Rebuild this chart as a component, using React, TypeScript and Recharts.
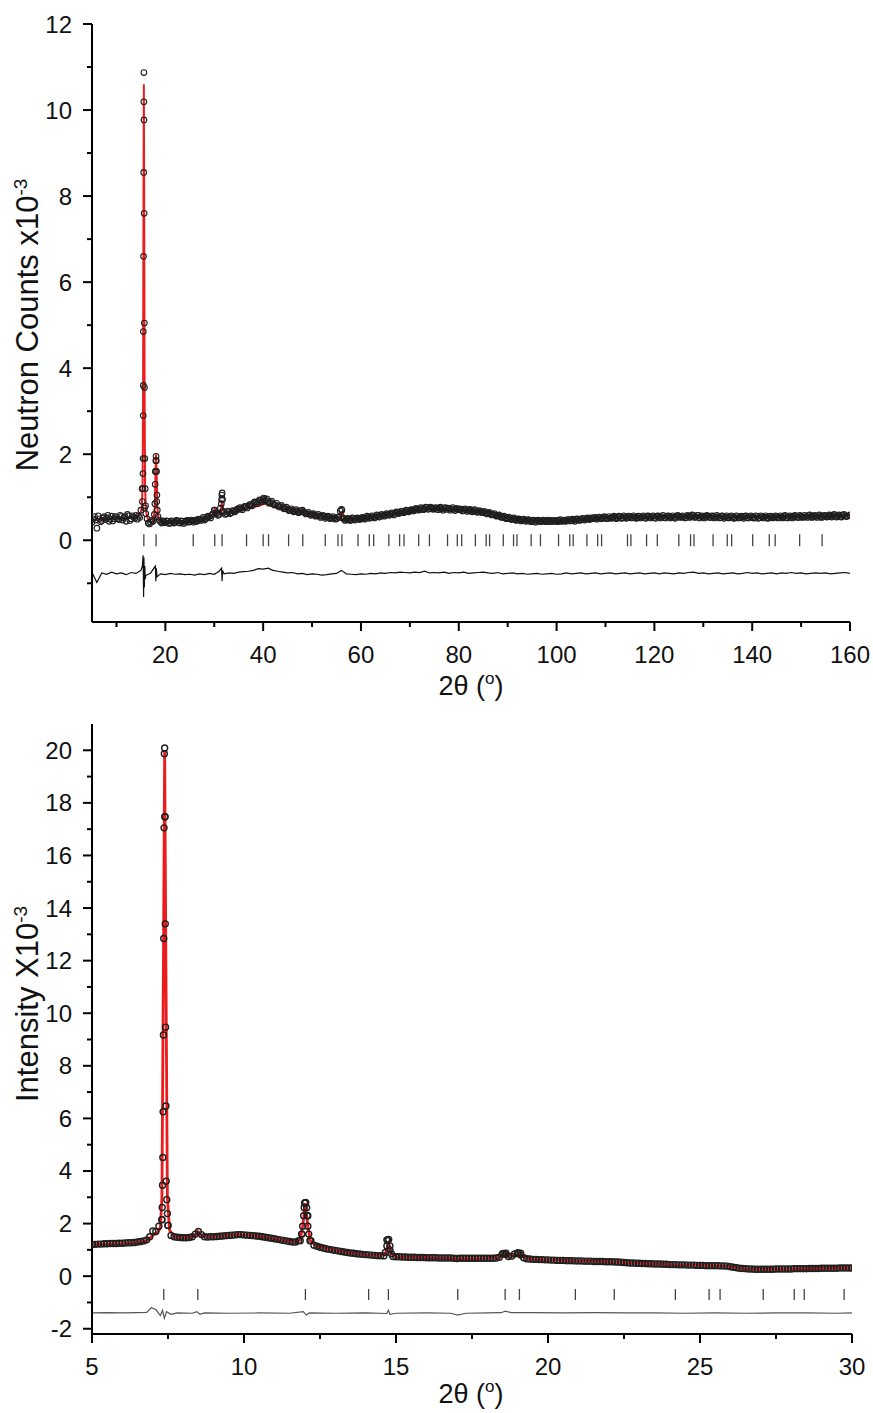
import React from 'react';
import { ComposedChart, Line, Scatter, XAxis, YAxis } from 'recharts';

const FONT = '"Liberation Sans", Arial, Helvetica, sans-serif';
const RED = '#ec1c1c';

// ---------- top panel (neutron) ----------
const topObsStart = 5;
const topObsStep = 0.5;
const topObs = [
  0.42, 0.55, 0.28, 0.5, 0.46, 0.55, 0.52, 0.44, 0.56, 0.5,
  0.53, 0.48, 0.55, 0.52, 0.44, 0.57, 0.5, 0.54, 0.58, 0.56,
  0.7, 3.6, 0.62, 0.4, 0.42, 0.44, 1.6, 0.55, 0.43, 0.45,
  0.41, 0.44, 0.4, 0.43, 0.42, 0.45, 0.4, 0.44, 0.42, 0.46,
  0.43, 0.45, 0.47, 0.44, 0.48, 0.5, 0.47, 0.53, 0.55, 0.58,
  0.7, 0.62, 0.6, 0.95, 0.65, 0.62, 0.66, 0.64, 0.68, 0.7,
  0.72, 0.74, 0.76, 0.78, 0.8, 0.83, 0.86, 0.88, 0.9, 0.93,
  0.95, 0.93, 0.9, 0.88, 0.85, 0.82, 0.8, 0.78, 0.76, 0.74,
  0.72, 0.7, 0.69, 0.68, 0.67, 0.66, 0.7, 0.64, 0.62, 0.61,
  0.6, 0.59, 0.57, 0.56, 0.56, 0.55, 0.54, 0.53, 0.52, 0.52,
  0.5, 0.53, 0.72, 0.5, 0.48, 0.49, 0.47, 0.5, 0.49, 0.51,
  0.5, 0.52, 0.51, 0.54, 0.53, 0.55, 0.54, 0.57, 0.56, 0.58,
  0.59, 0.6, 0.61, 0.62, 0.63, 0.65, 0.64, 0.67, 0.66, 0.69,
  0.68, 0.7, 0.71, 0.72, 0.72, 0.74, 0.73, 0.76, 0.74, 0.75,
  0.73, 0.75, 0.74, 0.73, 0.75, 0.72, 0.74, 0.73, 0.72, 0.74,
  0.71, 0.72, 0.7, 0.71, 0.69, 0.7, 0.68, 0.69, 0.66, 0.67,
  0.65, 0.64, 0.63, 0.61, 0.6, 0.58, 0.57, 0.55, 0.54, 0.52,
  0.52, 0.5, 0.5, 0.48, 0.49, 0.47, 0.48, 0.46, 0.47, 0.45,
  0.46, 0.44, 0.46, 0.45, 0.44, 0.46, 0.45, 0.43, 0.46, 0.44,
  0.45, 0.46, 0.44, 0.47, 0.45, 0.48, 0.46, 0.47, 0.49, 0.47,
  0.48, 0.5, 0.49, 0.5, 0.52, 0.5, 0.51, 0.53, 0.51, 0.52,
  0.53, 0.51, 0.52, 0.54, 0.52, 0.53, 0.55, 0.52, 0.54, 0.53,
  0.55, 0.53, 0.54, 0.52, 0.55, 0.54, 0.53, 0.56, 0.54, 0.55,
  0.53, 0.56, 0.54, 0.55, 0.53, 0.55, 0.56, 0.54, 0.53, 0.55,
  0.56, 0.54, 0.55, 0.53, 0.56, 0.55, 0.57, 0.54, 0.58, 0.55,
  0.54, 0.56, 0.55, 0.53, 0.56, 0.54, 0.55, 0.53, 0.56, 0.54,
  0.53, 0.55, 0.54, 0.52, 0.55, 0.53, 0.54, 0.56, 0.53, 0.55,
  0.54, 0.52, 0.55, 0.53, 0.55, 0.54, 0.52, 0.55, 0.53, 0.54,
  0.55, 0.53, 0.54, 0.56, 0.53, 0.55, 0.54, 0.56, 0.55, 0.53,
  0.56, 0.54, 0.55, 0.57, 0.54, 0.56, 0.55, 0.57, 0.54, 0.56,
  0.57, 0.55, 0.56, 0.58, 0.56, 0.57, 0.55, 0.58, 0.57, 0.56,
  0.59,
];
// second, offset set of observed counts (scatter read between the first set)
const topObs2Start = 5.25;
const topObs2 = [
  0.5, 0.47, 0.57, 0.43, 0.52, 0.48, 0.58, 0.49, 0.45, 0.55,
  0.5, 0.58, 0.47, 0.55, 0.6, 0.46, 0.57, 0.51, 0.49, 0.53,
  1.2, 0.75, 0.5, 0.38, 0.46, 0.6, 0.9, 0.47, 0.4, 0.43,
  0.45, 0.39, 0.45, 0.4, 0.46, 0.41, 0.45, 0.39, 0.45, 0.42,
  0.47, 0.42, 0.45, 0.49, 0.46, 0.53, 0.5, 0.56, 0.52, 0.62,
  0.64, 0.58, 0.75, 0.68, 0.6, 0.68, 0.62, 0.69, 0.66, 0.73,
  0.76, 0.71, 0.79, 0.75, 0.83, 0.8, 0.89, 0.85, 0.94, 0.9,
  0.91, 0.96, 0.86, 0.91, 0.82, 0.86, 0.77, 0.81, 0.73, 0.77,
  0.69, 0.73, 0.66, 0.71, 0.64, 0.69, 0.66, 0.61, 0.65, 0.58,
  0.62, 0.56, 0.6, 0.53, 0.58, 0.51, 0.56, 0.5, 0.55, 0.49,
  0.54, 0.68, 0.52, 0.46, 0.51, 0.46, 0.52, 0.47, 0.52, 0.48,
  0.53, 0.49, 0.56, 0.51, 0.57, 0.52, 0.59, 0.54, 0.6, 0.56,
  0.62, 0.58, 0.64, 0.59, 0.66, 0.62, 0.68, 0.64, 0.7, 0.66,
  0.71, 0.68, 0.74, 0.7, 0.76, 0.71, 0.77, 0.72, 0.77, 0.72,
  0.76, 0.71, 0.77, 0.7, 0.76, 0.75, 0.7, 0.76, 0.69, 0.72,
  0.73, 0.68, 0.73, 0.67, 0.72, 0.66, 0.71, 0.65, 0.69, 0.64,
  0.67, 0.61, 0.65, 0.59, 0.62, 0.56, 0.59, 0.53, 0.56, 0.5,
  0.54, 0.48, 0.52, 0.46, 0.5, 0.45, 0.49, 0.44, 0.48, 0.43,
  0.47, 0.42, 0.47, 0.43, 0.47, 0.43, 0.47, 0.44, 0.44, 0.46,
  0.43, 0.48, 0.45, 0.44, 0.48, 0.45, 0.49, 0.44, 0.5, 0.46,
  0.51, 0.47, 0.52, 0.48, 0.5, 0.53, 0.49, 0.54, 0.5, 0.55,
  0.5, 0.55, 0.51, 0.56, 0.5, 0.56, 0.51, 0.57, 0.51, 0.56,
  0.52, 0.57, 0.51, 0.56, 0.52, 0.57, 0.51, 0.57, 0.52, 0.57,
  0.51, 0.57, 0.52, 0.58, 0.52, 0.57, 0.52, 0.57, 0.51, 0.58,
  0.53, 0.57, 0.52, 0.58, 0.53, 0.59, 0.53, 0.58, 0.52, 0.57,
  0.52, 0.58, 0.53, 0.57, 0.52, 0.58, 0.52, 0.57, 0.51, 0.57,
  0.52, 0.57, 0.51, 0.57, 0.52, 0.56, 0.51, 0.57, 0.52, 0.57,
  0.52, 0.57, 0.51, 0.57, 0.52, 0.57, 0.51, 0.56, 0.52, 0.57,
  0.52, 0.57, 0.52, 0.58, 0.52, 0.57, 0.52, 0.58, 0.53, 0.58,
  0.53, 0.58, 0.53, 0.59, 0.53, 0.58, 0.53, 0.59, 0.53, 0.58,
  0.54, 0.59, 0.54, 0.6, 0.54, 0.59, 0.54, 0.6, 0.55,
];
// extra observed points on the Bragg peaks [2theta, counts]
const topObsPeaks = [
  [15.3, 0.9], [15.38, 1.2], [15.42, 1.55], [15.45, 1.9], [15.48, 2.9], [15.5, 4.85],
  [15.53, 6.6], [15.57, 8.55], [15.6, 10.19], [15.61, 10.87], [15.63, 9.77], [15.66, 7.6],
  [15.7, 5.05], [15.74, 3.55], [15.8, 1.9], [15.88, 1.2], [15.95, 0.8],
  [17.85, 0.85], [17.92, 1.3], [17.98, 1.6], [18.05, 1.85], [18.1, 1.95], [18.15, 1.85],
  [18.2, 1.6], [18.27, 1.05], [18.35, 0.7],
  [30.05, 0.7], [31.45, 0.85], [31.55, 1.05], [31.62, 1.1], [31.7, 0.95],
  [40.1, 0.98], [56.1, 0.7],
];
const topCalc = [
  [5, 0.47], [7, 0.48], [9, 0.5], [11, 0.51], [13, 0.52], [14.5, 0.56], [15.0, 0.65],
  [15.2, 0.8], [15.35, 1.3], [15.45, 3.5], [15.52, 7.5], [15.6, 10.6], [15.68, 7.5],
  [15.75, 3.5], [15.85, 1.3], [16.0, 0.7], [16.4, 0.5], [17.0, 0.42], [17.6, 0.45],
  [17.85, 0.8], [17.95, 1.4], [18.1, 2.0], [18.25, 1.4], [18.35, 0.8], [18.6, 0.48],
  [19.5, 0.42], [21, 0.41], [23, 0.42], [25, 0.43], [27, 0.46], [29, 0.52], [29.8, 0.62],
  [30.1, 0.72], [30.5, 0.6], [31, 0.62], [31.4, 0.75], [31.6, 0.91], [31.8, 0.7],
  [32.5, 0.63], [34, 0.67], [36, 0.72], [38, 0.77], [39.5, 0.81], [40.3, 0.86], [41, 0.82],
  [42, 0.79], [44, 0.74], [46, 0.69], [47.5, 0.66], [48.1, 0.7], [48.7, 0.64], [50, 0.6],
  [52, 0.56], [54, 0.53], [55.7, 0.52], [56.2, 0.66], [56.7, 0.5], [58, 0.49], [60, 0.5],
  [62, 0.53], [64, 0.56], [66, 0.6], [68, 0.64], [70, 0.68], [72, 0.71], [74, 0.73],
  [76, 0.73], [78, 0.72], [80, 0.71], [82, 0.7], [84, 0.67], [86, 0.63], [88, 0.58],
  [90, 0.53], [92, 0.49], [94, 0.47], [96, 0.46], [98, 0.45], [100, 0.45], [102, 0.46],
  [104, 0.48], [106, 0.49], [108, 0.51], [110, 0.52], [115, 0.53], [120, 0.54],
  [125, 0.54], [130, 0.55], [135, 0.54], [140, 0.54], [145, 0.54], [150, 0.55],
  [155, 0.55], [160, 0.57],
];
const topDiffStart = 5;
const topDiffStep = 1;
const topDiff = [
  -0.75, -0.98, -0.76, -0.79, -0.74, -0.78, -0.76, -0.8, -0.75, -0.77,
  -0.7, -0.82, -0.76, -0.7, -0.78, -0.8, -0.77, -0.79, -0.78, -0.8,
  -0.79, -0.81, -0.78, -0.8, -0.77, -0.79, -0.72, -0.78, -0.76, -0.77,
  -0.74, -0.73, -0.72, -0.7, -0.66, -0.67, -0.65, -0.7, -0.72, -0.74,
  -0.76, -0.75, -0.78, -0.77, -0.8, -0.78, -0.79, -0.81, -0.8, -0.78,
  -0.77, -0.7, -0.78, -0.79, -0.8, -0.78, -0.79, -0.77, -0.78, -0.76,
  -0.77, -0.75, -0.76, -0.74, -0.75, -0.76, -0.74, -0.75, -0.72, -0.76,
  -0.75, -0.76, -0.74, -0.77, -0.75, -0.76, -0.74, -0.77, -0.76, -0.75,
  -0.74, -0.76, -0.77, -0.75, -0.78, -0.77, -0.76, -0.78, -0.77, -0.79,
  -0.78, -0.77, -0.79, -0.78, -0.77, -0.79, -0.78, -0.76, -0.78, -0.77,
  -0.76, -0.78, -0.77, -0.76, -0.78, -0.77, -0.76, -0.78, -0.77, -0.76,
  -0.78, -0.77, -0.76, -0.78, -0.77, -0.76, -0.78, -0.76, -0.77, -0.78,
  -0.76, -0.77, -0.75, -0.74, -0.77, -0.76, -0.78, -0.77, -0.76, -0.78,
  -0.77, -0.76, -0.78, -0.77, -0.75, -0.77, -0.76, -0.78, -0.77, -0.76,
  -0.78, -0.76, -0.77, -0.75, -0.77, -0.76, -0.78, -0.77, -0.76, -0.77,
  -0.76, -0.78, -0.77, -0.76, -0.75, -0.77,
];
const topDiffPeaks = [
  [15.3, -0.6], [15.45, -0.35], [15.55, -1.32], [15.62, -0.4], [15.7, -1.1], [15.8, -0.6],
  [15.9, -0.9], [17.95, -0.6], [18.05, -0.95], [18.15, -0.65], [18.3, -0.85],
  [31.5, -0.65], [31.6, -0.95], [31.7, -0.7],
];
const topBragg = [
  15.6, 18.1, 25.7, 30.1, 31.6, 36.6, 40.0, 41.1, 45.2, 48.1, 52.7, 55.3, 56.1, 59.4,
  61.7, 62.6, 65.7, 67.9, 68.8, 71.8, 74.0, 77.7, 79.7, 80.6, 83.4, 85.6, 86.3, 89.1,
  91.2, 91.9, 94.8, 96.7, 100.4, 102.7, 103.4, 106.2, 108.4, 109.2, 114.5, 115.2, 118.4,
  120.6, 125.0, 127.4, 128.1, 132.0, 134.9, 135.8, 140.1, 143.5, 144.7, 149.7, 154.3,
];
const topXMajor = [20, 40, 60, 80, 100, 120, 140, 160];
const topXMinor = [10, 30, 50, 70, 90, 110, 130, 150];
const topYMajor = [0, 2, 4, 6, 8, 10, 12];
const topYMinor = [-1, 1, 3, 5, 7, 9, 11];

// ---------- bottom panel (x-ray) ----------
const botObsStart = 5;
const botObsStep = 0.1;
const botObs = [
  1.2, 1.21, 1.22, 1.22, 1.23, 1.23, 1.24, 1.24, 1.24, 1.25,
  1.25, 1.26, 1.27, 1.27, 1.28, 1.3, 1.32, 1.34, 1.38, 1.5,
  1.72, 1.7, 1.9, 2.15, 17.47, 1.93, 1.55, 1.5, 1.48, 1.47,
  1.46, 1.46, 1.47, 1.5, 1.6, 1.7, 1.58, 1.5, 1.49, 1.5,
  1.5, 1.51, 1.52, 1.53, 1.54, 1.55, 1.56, 1.57, 1.58, 1.58,
  1.57, 1.56, 1.55, 1.54, 1.53, 1.52, 1.5, 1.48, 1.46, 1.44,
  1.42, 1.4, 1.38, 1.36, 1.34, 1.32, 1.3, 1.3, 1.35, 1.6,
  2.78, 2.3, 1.35, 1.18, 1.14, 1.1, 1.07, 1.04, 1.02, 1.0,
  0.98, 0.96, 0.94, 0.92, 0.9, 0.88, 0.87, 0.85, 0.84, 0.83,
  0.82, 0.81, 0.8, 0.79, 0.78, 0.78, 0.77, 1.38, 1.0, 0.75,
  0.74, 0.74, 0.73, 0.73, 0.72, 0.72, 0.72, 0.71, 0.71, 0.71,
  0.7, 0.7, 0.7, 0.7, 0.69, 0.69, 0.69, 0.69, 0.69, 0.68,
  0.67, 0.68, 0.68, 0.68, 0.68, 0.68, 0.68, 0.68, 0.68, 0.68,
  0.68, 0.68, 0.68, 0.69, 0.72, 0.85, 0.82, 0.75, 0.76, 0.84,
  0.88, 0.8, 0.7, 0.66, 0.65, 0.64, 0.64, 0.63, 0.63, 0.62,
  0.62, 0.61, 0.61, 0.6, 0.6, 0.6, 0.59, 0.59, 0.59, 0.58,
  0.58, 0.58, 0.57, 0.57, 0.57, 0.56, 0.56, 0.56, 0.56, 0.55,
  0.55, 0.55, 0.54, 0.54, 0.53, 0.52, 0.51, 0.5, 0.5, 0.49,
  0.49, 0.48, 0.48, 0.47, 0.47, 0.46, 0.46, 0.46, 0.45, 0.45,
  0.44, 0.44, 0.44, 0.43, 0.43, 0.43, 0.42, 0.42, 0.42, 0.41,
  0.41, 0.41, 0.4, 0.4, 0.4, 0.4, 0.4, 0.39, 0.39, 0.38,
  0.36, 0.34, 0.32, 0.3, 0.29, 0.28, 0.27, 0.27, 0.26, 0.26,
  0.26, 0.26, 0.26, 0.26, 0.26, 0.27, 0.27, 0.27, 0.27, 0.27,
  0.27, 0.28, 0.28, 0.28, 0.28, 0.28, 0.29, 0.29, 0.29, 0.29,
  0.3, 0.3, 0.3, 0.3, 0.3, 0.3, 0.31, 0.31, 0.31, 0.31,
  0.31,
];
const botObsPeaks = [
  [7.3, 2.15], [7.31, 2.61], [7.32, 3.46], [7.33, 4.51], [7.34, 6.25], [7.35, 9.17],
  [7.36, 12.84], [7.37, 17.05], [7.38, 19.87], [7.39, 20.09], [7.4, 17.47], [7.41, 13.4],
  [7.42, 9.47], [7.43, 6.47], [7.44, 3.61], [7.46, 2.91], [7.48, 2.38], [7.5, 1.93],
  [11.85, 1.35], [11.9, 1.6], [11.93, 1.9], [11.96, 2.3], [11.98, 2.6], [12.0, 2.78],
  [12.03, 2.8], [12.06, 2.6], [12.08, 2.3], [12.1, 1.9], [12.13, 1.6], [12.17, 1.35],
  [14.65, 0.9], [14.7, 1.15], [14.73, 1.35], [14.76, 1.4], [14.8, 1.15], [14.85, 0.85],
  [18.55, 0.86], [18.62, 0.87], [19.02, 0.88], [19.1, 0.87],
];
const botCalc = [
  [5, 1.2], [5.5, 1.22], [6, 1.24], [6.5, 1.28], [6.8, 1.34], [7.0, 1.55], [7.15, 1.65],
  [7.25, 1.85], [7.3, 3.0], [7.35, 12], [7.39, 20.0], [7.43, 12], [7.48, 3.0], [7.55, 1.75],
  [7.7, 1.5], [8, 1.46], [8.3, 1.48], [8.4, 1.56], [8.48, 1.7], [8.58, 1.55], [8.8, 1.5],
  [9.3, 1.53], [9.8, 1.58], [10.3, 1.54], [10.8, 1.46], [11.3, 1.36], [11.7, 1.3],
  [11.85, 1.38], [11.93, 1.9], [12.02, 2.78], [12.1, 1.9], [12.18, 1.35], [12.4, 1.14],
  [13, 0.98], [13.5, 0.89], [14, 0.82], [14.5, 0.78], [14.65, 0.85], [14.75, 1.22],
  [14.85, 0.85], [15, 0.74], [16, 0.7], [17, 0.67], [18, 0.68], [18.4, 0.7], [18.55, 0.84],
  [18.75, 0.75], [18.95, 0.8], [19.06, 0.86], [19.25, 0.7], [19.5, 0.64], [20, 0.62],
  [21, 0.58], [22, 0.55], [23, 0.49], [24, 0.44], [25, 0.41], [25.7, 0.39], [26, 0.36],
  [26.5, 0.28], [27, 0.26], [28, 0.27], [29, 0.3], [30, 0.31],
];
const botDiff = [
  [5, -1.4], [5.5, -1.39], [6, -1.4], [6.5, -1.39], [6.8, -1.38], [6.95, -1.2], [7.1, -1.27],
  [7.25, -1.5], [7.32, -1.3], [7.38, -1.6], [7.45, -1.35], [7.6, -1.45], [7.8, -1.4],
  [8.3, -1.41], [8.45, -1.35], [8.55, -1.45], [8.7, -1.4], [9.5, -1.41], [10.5, -1.4],
  [11.5, -1.41], [11.95, -1.35], [12.05, -1.48], [12.15, -1.4], [13, -1.41], [14, -1.4],
  [14.7, -1.42], [14.75, -1.3], [14.8, -1.45], [15, -1.41], [16, -1.4], [16.8, -1.41],
  [17.03, -1.48], [17.3, -1.41], [18, -1.4], [18.45, -1.39], [18.6, -1.33], [18.8, -1.39],
  [19.5, -1.39], [20.5, -1.4], [21.5, -1.39], [22.5, -1.4], [23.5, -1.4], [24.5, -1.41],
  [25.5, -1.4], [26.5, -1.41], [27.5, -1.4], [28.5, -1.4], [29.5, -1.41], [30, -1.4],
];
const botBragg = [
  7.36, 8.48, 12.02, 14.1, 14.75, 17.03, 18.59, 19.06, 20.9, 22.18, 24.19, 25.3, 25.66,
  27.08, 28.1, 28.43, 29.74,
];
const botXMajor = [5, 10, 15, 20, 25, 30];
const botXMinor = [7.5, 12.5, 17.5, 22.5, 27.5];
const botYMajor = [-2, 0, 2, 4, 6, 8, 10, 12, 14, 16, 18, 20];
const botYMinor = [-1, 1, 3, 5, 7, 9, 11, 13, 15, 17, 19];

// ---------- helpers ----------
type Pt = { x: number; y: number };
const grid = (start: number, step: number, ys: number[]): Pt[] =>
  ys.map((y, i) => ({ x: +(start + i * step).toFixed(3), y }));
const pairs = (p: number[][]): Pt[] => p.map(([x, y]) => ({ x, y }));
const byX = (a: Pt, b: Pt) => a.x - b.x;

const tickFactory = (side: string, majors: number[], showLabel: boolean, fontSize = 24) =>
  (props: any) => {
    const { x, y, payload } = props;
    const v = payload.value;
    const major = majors.includes(v);
    const len = major ? 9 : 5;
    if (side === 'bottom' || side === 'top') {
      return (
        <g>
          <line x1={x} x2={x} y1={y} y2={y + len} stroke="#000" strokeWidth={2} />
          {showLabel && major && (
            <text x={x} y={y + 41} textAnchor="middle" fontSize={fontSize} fontFamily={FONT} fill="#111">
              {v}
            </text>
          )}
        </g>
      );
    }
    // left (outward) or right (inward): both go to smaller x
    return (
      <g>
        <line x1={x} x2={x - len} y1={y} y2={y} stroke="#000" strokeWidth={2} />
        {showLabel && major && (
          <text x={x - 20} y={y + 8.5} textAnchor="end" fontSize={fontSize} fontFamily={FONT} fill="#111">
            {v}
          </text>
        )}
      </g>
    );
  };

const circleShape = (r: number, sw: number) => (props: any) => {
  const { cx, cy } = props;
  if (cx == null || cy == null) return null;
  return <circle cx={cx} cy={cy} r={r} fill="none" stroke="#1e1e1e" strokeWidth={sw} />;
};

const braggShape = (half: number) => (props: any) => {
  const { cx, cy } = props;
  if (cx == null || cy == null) return null;
  return <line x1={cx} x2={cx} y1={cy - half} y2={cy + half} stroke="#444" strokeWidth={1.3} />;
};

type PanelProps = {
  width: number;
  height: number;
  left: number;
  top: number;
  marginTop: number;
  marginRight: number;
  xDomain: [number, number];
  yDomain: [number, number];
  xMajor: number[];
  xMinor: number[];
  yMajor: number[];
  yMinor: number[];
  obs: Pt[];
  obsR: number;
  obsSW: number;
  calc: Pt[];
  diff: Pt[];
  bragg: Pt[];
  braggHalf: number;
  calcWidth: number;
  diffColor: string;
};

function Panel(p: PanelProps) {
  const xTicks = [...p.xMajor, ...p.xMinor].sort((a, b) => a - b);
  const yTicks = [...p.yMajor, ...p.yMinor].sort((a, b) => a - b);
  const axisLine = { stroke: '#000', strokeWidth: 2 };
  return (
    <div style={{ position: 'absolute', left: p.left, top: p.top }}>
      <ComposedChart
        width={p.width}
        height={p.height}
        margin={{ top: p.marginTop, right: p.marginRight, bottom: 0, left: 0 }}
      >
        <XAxis
          xAxisId="b"
          dataKey="x"
          type="number"
          domain={p.xDomain}
          allowDataOverflow
          ticks={xTicks}
          interval={0}
          height={60}
          axisLine={axisLine}
          tickLine={false}
          tickSize={0}
          tickMargin={0}
          tick={tickFactory('bottom', p.xMajor, true)}
        />
        <XAxis
          xAxisId="t"
          orientation="top"
          dataKey="x"
          type="number"
          domain={p.xDomain}
          allowDataOverflow
          ticks={xTicks}
          interval={0}
          height={0}
          axisLine={axisLine}
          tickLine={false}
          tickSize={0}
          tickMargin={0}
          tick={tickFactory('top', p.xMajor, false)}
        />
        <YAxis
          yAxisId="l"
          dataKey="y"
          type="number"
          domain={p.yDomain}
          allowDataOverflow
          ticks={yTicks}
          interval={0}
          width={84}
          axisLine={axisLine}
          tickLine={false}
          tickSize={0}
          tickMargin={0}
          tick={tickFactory('left', p.yMajor, true)}
        />
        <YAxis
          yAxisId="r"
          orientation="right"
          dataKey="y"
          type="number"
          domain={p.yDomain}
          allowDataOverflow
          ticks={yTicks}
          interval={0}
          width={0}
          axisLine={axisLine}
          tickLine={false}
          tickSize={0}
          tickMargin={0}
          tick={tickFactory('right', p.yMajor, false)}
        />
        <Scatter
          xAxisId="b"
          yAxisId="l"
          data={p.obs}
          dataKey="y"
          shape={circleShape(p.obsR, p.obsSW)}
          isAnimationActive={false}
        />
        <Line
          xAxisId="b"
          yAxisId="l"
          data={p.calc}
          dataKey="y"
          type="linear"
          stroke={RED}
          strokeWidth={p.calcWidth}
          dot={false}
          isAnimationActive={false}
        />
        <Line
          xAxisId="b"
          yAxisId="l"
          data={p.diff}
          dataKey="y"
          type="linear"
          stroke={p.diffColor}
          strokeWidth={1.2}
          dot={false}
          isAnimationActive={false}
        />
        <Scatter
          xAxisId="b"
          yAxisId="l"
          data={p.bragg}
          dataKey="y"
          shape={braggShape(p.braggHalf)}
          isAnimationActive={false}
        />
      </ComposedChart>
    </div>
  );
}

const twoTheta = (x: number, y: number) => (
  <text x={x} y={y} textAnchor="middle" fontSize={27} fontFamily={FONT} fill="#111">
    2θ (<tspan fontSize={17} dy={-11}>o</tspan>
    <tspan dy={11}>)</tspan>
  </text>
);

const yTitle = (x: number, y: number, label: string) => (
  <text
    x={x}
    y={y}
    textAnchor="middle"
    fontSize={31}
    fontFamily={FONT}
    fill="#111"
    transform={`rotate(-90, ${x}, ${y})`}
  >
    {label}
    <tspan fontSize={19} dy={-11}>-3</tspan>
  </text>
);

export default function App() {
  const topObsPts = [
    ...grid(topObsStart, topObsStep, topObs),
    ...grid(topObs2Start, topObsStep, topObs2),
    ...pairs(topObsPeaks),
  ].sort(byX);
  const topDiffPts = [...grid(topDiffStart, topDiffStep, topDiff), ...pairs(topDiffPeaks)].sort(byX);
  const botObsPts = [...grid(botObsStart, botObsStep, botObs), ...pairs(botObsPeaks)].sort(byX);

  // the page is laid out in its own 873 x 1413 box (body margin removed, offsets put back by hand)
  return (
    <div style={{ position: 'relative', width: 873, height: 1413, background: '#fff' }}>
      <style>{`html, body { margin: 0; overflow: hidden; }`}</style>
      <Panel
        width={865}
        height={674}
        left={8}
        top={8}
        marginTop={16}
        marginRight={23}
        xDomain={[5, 160]}
        yDomain={[-1.9, 12]}
        xMajor={topXMajor}
        xMinor={topXMinor}
        yMajor={topYMajor}
        yMinor={topYMinor}
        obs={topObsPts}
        obsR={2.8}
        obsSW={1.1}
        calc={pairs(topCalc)}
        diff={topDiffPts}
        bragg={topBragg.map((x) => ({ x, y: 0 }))}
        braggHalf={6}
        calcWidth={2}
        diffColor="#111"
      />
      <Panel
        width={865}
        height={694}
        left={8}
        top={700}
        marginTop={24}
        marginRight={21}
        xDomain={[5, 30]}
        yDomain={[-2.2, 21]}
        xMajor={botXMajor}
        xMinor={botXMinor}
        yMajor={botYMajor}
        yMinor={botYMinor}
        obs={botObsPts}
        obsR={3}
        obsSW={1.4}
        calc={pairs(botCalc)}
        diff={pairs(botDiff)}
        bragg={botBragg.map((x) => ({ x, y: -0.7 }))}
        braggHalf={5.5}
        calcWidth={2.8}
        diffColor="#555"
      />
      <svg
        width={873}
        height={1413}
        style={{ position: 'absolute', left: 0, top: 0, pointerEvents: 'none' }}
      >
        {twoTheta(471, 695)}
        {twoTheta(471, 1403)}
        {yTitle(38, 325, 'Neutron Counts x10')}
        {yTitle(38, 1004, 'Intensity X10')}
      </svg>
    </div>
  );
}
